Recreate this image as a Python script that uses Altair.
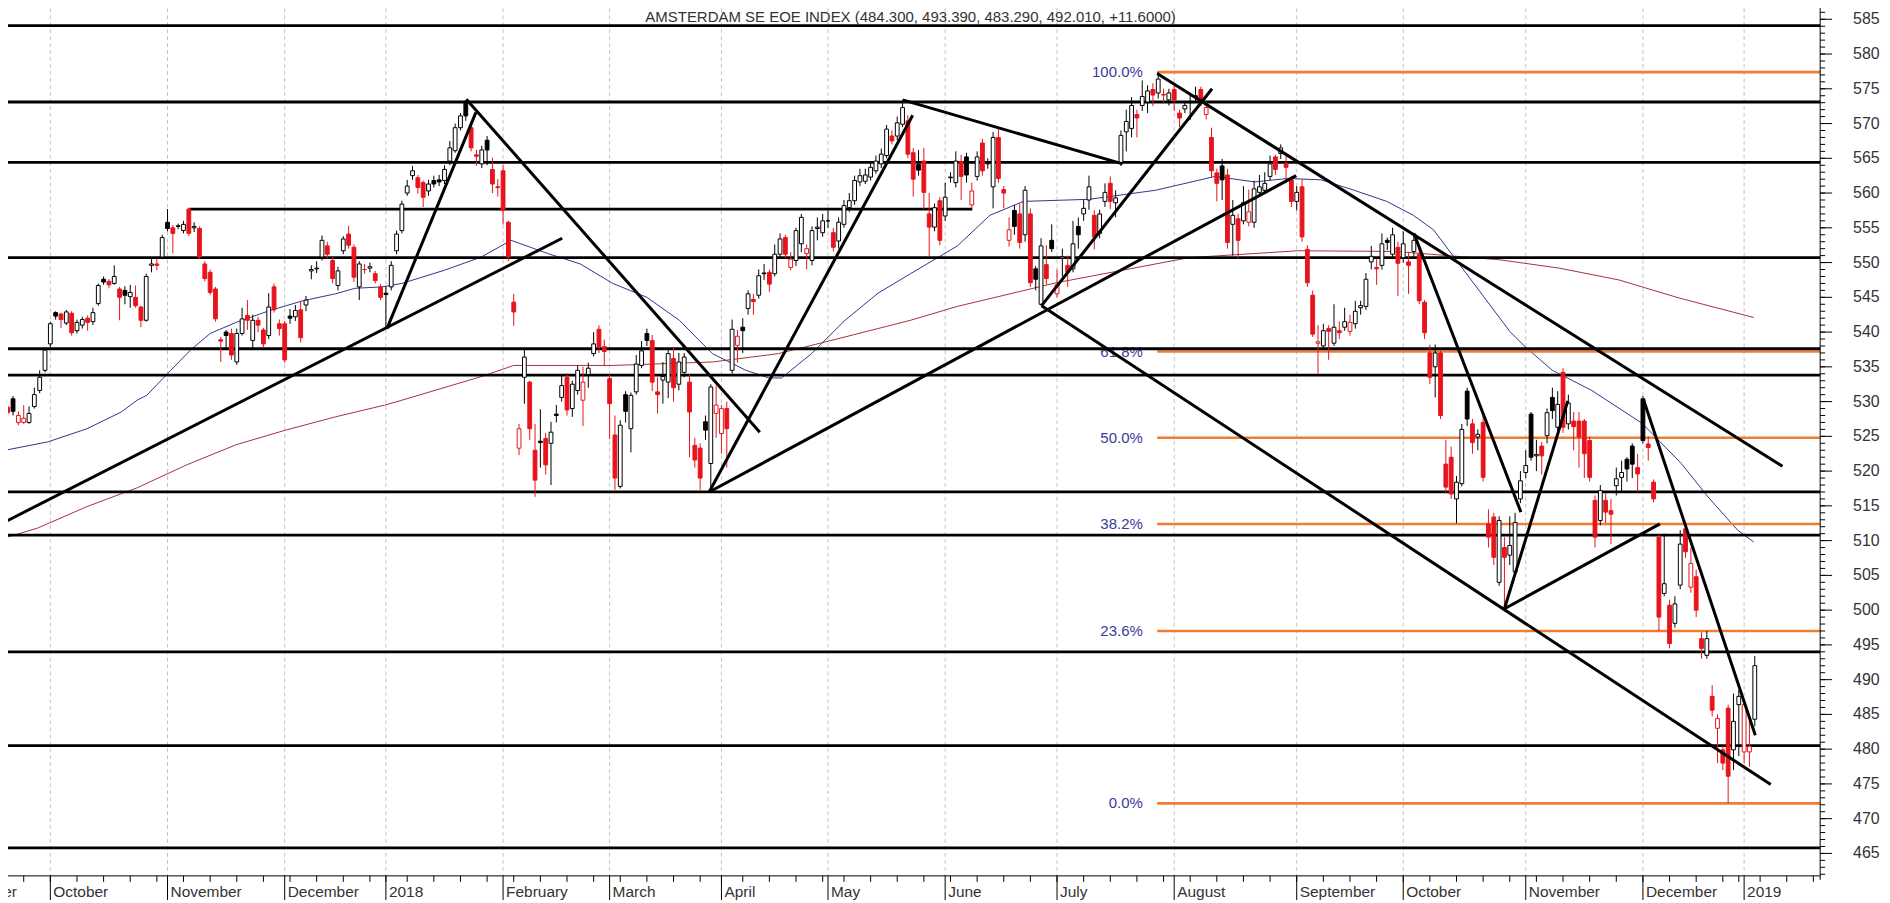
import altair as alt
import pandas as pd
import numpy as np

# ---------------- values ----------------
# daily candles, 2017-09-20 .. 2019-01-04 (trading days)
open_ = [
    529.2, 530.4, 527.0, 527.0, 527.0, 529.3, 531.6, 534.5,
    538.3, 542.8, 542.6, 541.3, 542.7, 540.2, 541.0, 542.0, 541.5, 544.1,
    547.6, 547.3, 547.0, 546.2, 546.0, 545.1, 545.0, 543.6, 541.7, 549.6,
    549.8, 550.8, 555.8, 555.0, 555.2, 554.6, 557.7, 555.0, 554.9, 549.8,
    548.6, 546.2, 538.9, 540.0, 539.8, 535.7, 539.8, 542.4, 538.8, 541.7,
    540.3, 539.5, 546.5, 541.2, 541.2, 542.3, 542.2, 543.2, 543.9, 548.8,
    549.1, 550.8, 552.4, 550.3, 546.7, 551.7, 554.1, 552.2, 546.5, 549.0,
    549.2, 548.4, 546.5, 545.6, 546.5, 551.7, 554.6, 560.0, 562.5, 562.2,
    561.5, 560.3, 561.8, 561.9, 561.8, 564.6, 566.1, 569.4, 573.2, 569.4,
    565.5, 564.2, 567.6, 563.4, 560.9, 563.2, 555.8, 544.3, 523.3, 533.5,
    532.8, 523.0, 524.3, 524.7, 524.0, 528.2, 530.6, 533.5, 529.0, 531.6,
    530.2, 533.9, 536.9, 540.4, 537.9, 533.3, 525.2, 517.8, 531.0, 526.1,
    531.4, 535.2, 539.8, 538.8, 531.4, 533.1, 532.8, 536.2, 532.5, 534.2,
    532.8, 523.7, 523.3, 527.1, 521.1, 528.3, 525.4, 529.0, 534.5, 538.1,
    540.7, 543.4, 544.7, 545.3, 548.5, 548.6, 548.4, 551.2, 553.6, 549.3,
    550.3, 552.7, 551.3, 550.3, 554.9, 554.3, 556.0, 554.3, 553.1, 555.5,
    557.9, 558.9, 561.6, 561.7, 562.3, 563.2, 564.2, 565.4, 568.2, 568.2,
    569.9, 570.4, 565.8, 564.1, 564.6, 557.0, 555.1, 558.9, 556.7, 562.3,
    561.5, 564.5, 565.2, 558.3, 562.4, 567.2, 564.2, 560.9, 568.0, 560.5,
    553.2, 557.5, 557.0, 554.0, 557.0, 549.1, 544.0, 549.7, 553.2, 545.5,
    550.6, 549.6, 549.1, 555.2, 557.0, 559.0, 556.8, 554.2, 558.8, 561.4,
    558.6, 564.4, 568.8, 569.3, 571.3, 572.6, 573.1, 574.9, 574.4, 574.2,
    573.4, 574.9, 571.5, 572.1, 573.1, 574.0, 574.9, 571.3, 568.0, 562.9,
    563.9, 562.6, 555.5, 556.3, 556.0, 555.8, 555.8, 560.1, 560.4, 562.4,
    565.2, 565.7, 564.2, 561.9, 558.8, 560.9, 551.9, 545.3, 538.4, 538.0,
    540.5, 538.4, 540.2, 540.7, 540.1, 541.2, 543.5, 543.7, 550.1, 549.3,
    549.6, 553.2, 551.2, 552.2, 550.7, 550.1, 551.6, 551.2, 544.3, 537.0,
    535.0, 537.0, 521.0, 522.0, 516.0, 518.2, 531.5, 526.8, 524.9, 527.0,
    512.4, 513.4, 504.0, 509.0, 507.9, 505.5, 516.0, 519.8, 528.2, 522.2,
    523.6, 525.1, 530.6, 526.3, 534.2, 526.8, 527.2, 527.2, 527.2, 524.4,
    515.8, 512.9, 515.8, 514.3, 517.9, 519.1, 521.7, 523.6, 520.5, 530.4,
    523.9, 518.4, 510.5, 502.4, 500.7, 498.1, 503.6, 511.7, 503.3, 504.8,
    495.9, 493.5, 487.6, 483.0, 479.9, 485.9, 479.9, 486.4, 479.6, 479.6, 484.3,
]
high_ = [
    529.5, 530.8, 528.6, 529.5, 529.3, 532.0, 534.5, 537.7,
    541.5, 543.0, 542.8, 543.2, 543.0, 541.8, 542.2, 542.4, 543.5, 547.0,
    548.0, 547.6, 549.6, 546.5, 546.6, 546.8, 546.7, 543.8, 548.4, 550.8,
    550.5, 554.0, 557.7, 555.4, 555.6, 556.0, 557.9, 555.8, 555.2, 550.2,
    549.0, 546.5, 539.3, 540.3, 540.5, 540.5, 543.5, 544.6, 542.5, 542.2,
    540.6, 545.6, 547.0, 541.8, 541.6, 543.3, 543.9, 544.5, 545.2, 549.6,
    550.2, 553.9, 553.0, 550.8, 549.4, 553.8, 555.3, 552.6, 550.2, 549.8,
    550.0, 548.8, 546.9, 546.6, 550.2, 554.6, 558.9, 561.9, 563.9, 562.6,
    561.8, 561.9, 562.5, 562.6, 564.0, 567.5, 570.0, 571.5, 573.4, 570.0,
    566.2, 566.8, 568.2, 565.1, 562.0, 564.0, 556.0, 545.5, 526.8, 537.5,
    533.0, 526.8, 528.9, 525.5, 527.1, 529.5, 533.8, 534.1, 533.0, 535.2,
    535.0, 535.6, 540.0, 541.0, 538.9, 533.9, 528.0, 527.3, 531.5, 531.3,
    536.7, 538.7, 540.5, 539.6, 533.5, 535.7, 537.5, 537.7, 537.0, 537.0,
    534.0, 524.8, 524.0, 528.0, 532.5, 532.3, 529.5, 530.0, 541.8, 540.3,
    542.0, 546.0, 545.5, 549.0, 549.8, 549.0, 552.6, 554.2, 554.0, 551.5,
    555.0, 557.0, 552.6, 555.2, 556.5, 557.0, 557.5, 555.0, 556.5, 559.0,
    560.0, 562.5, 563.5, 563.5, 564.5, 565.4, 566.4, 569.8, 569.0, 571.0,
    573.4, 571.2, 566.5, 566.2, 566.5, 560.0, 558.5, 559.4, 561.5, 563.0,
    566.0, 565.5, 565.8, 561.5, 566.0, 567.8, 565.0, 568.8, 569.2, 561.0,
    556.5, 558.3, 558.5, 561.0, 557.8, 549.5, 553.5, 552.5, 555.5, 549.0,
    552.0, 551.0, 556.0, 556.5, 559.0, 562.5, 557.5, 557.6, 561.4, 562.4,
    560.4, 569.0, 572.0, 573.8, 572.0, 576.2, 575.5, 575.8, 577.4, 575.0,
    575.0, 575.4, 572.0, 573.2, 574.0, 575.3, 575.3, 573.2, 569.4, 563.5,
    564.9, 563.5, 559.0, 557.0, 561.0, 560.5, 561.8, 562.6, 563.0, 565.4,
    565.5, 567.0, 565.4, 562.4, 561.0, 562.0, 552.5, 546.0, 541.0, 541.2,
    541.0, 544.0, 541.5, 543.5, 542.5, 544.5, 544.5, 548.5, 552.4, 550.5,
    554.2, 553.6, 555.0, 553.0, 554.5, 551.5, 554.2, 552.5, 544.6, 538.2,
    538.2, 537.5, 524.5, 523.5, 519.3, 526.8, 532.0, 527.5, 526.0, 528.5,
    514.5, 514.0, 513.5, 510.5, 513.5, 514.0, 520.0, 523.0, 528.5, 524.5,
    524.2, 529.0, 532.0, 531.5, 534.8, 531.0, 528.5, 528.5, 527.5, 525.0,
    516.5, 518.0, 516.8, 516.0, 520.5, 521.5, 522.0, 524.0, 522.5, 530.8,
    525.0, 518.8, 511.0, 511.0, 501.5, 502.0, 511.5, 512.3, 509.0, 505.8,
    496.8, 497.0, 489.2, 485.0, 480.5, 486.4, 488.0, 488.5, 487.0, 484.5, 493.39,
]
low_ = [
    528.0, 528.0, 526.6, 526.8, 526.8, 529.0, 531.2, 534.2,
    537.8, 541.8, 540.6, 541.0, 539.5, 539.8, 540.5, 540.2, 541.0, 543.8,
    546.8, 546.3, 546.8, 541.7, 544.0, 543.5, 543.5, 540.7, 541.5, 548.6,
    548.9, 550.5, 554.5, 551.3, 554.8, 554.2, 553.8, 554.4, 550.5, 547.3,
    545.3, 541.5, 535.7, 537.5, 536.0, 535.3, 539.5, 540.3, 537.7, 540.0,
    537.7, 539.0, 542.8, 539.5, 535.6, 541.2, 541.6, 538.5, 543.0, 547.6,
    548.5, 550.3, 550.6, 547.0, 546.0, 551.2, 552.0, 547.2, 544.6, 548.4,
    548.6, 547.0, 544.6, 540.5, 546.0, 551.2, 554.2, 559.6, 561.9, 559.9,
    558.0, 559.6, 560.8, 561.0, 561.3, 564.0, 565.8, 569.0, 570.4, 566.0,
    563.9, 563.6, 564.0, 560.0, 559.5, 555.5, 550.2, 540.9, 522.3, 529.7,
    524.5, 516.3, 520.5, 519.5, 518.0, 527.0, 530.0, 528.0, 527.8, 531.0,
    526.5, 532.0, 536.5, 537.0, 535.1, 524.6, 517.3, 517.5, 527.0, 522.7,
    531.0, 534.8, 538.0, 531.5, 528.3, 529.7, 530.5, 530.0, 531.6, 533.5,
    522.0, 520.5, 517.3, 524.5, 517.0, 524.8, 522.5, 520.5, 534.0, 535.6,
    537.0, 542.5, 542.5, 544.8, 547.5, 545.8, 548.0, 550.8, 550.6, 548.9,
    549.5, 551.5, 549.0, 549.6, 553.2, 553.7, 555.0, 551.6, 552.0, 555.0,
    557.3, 558.3, 561.0, 561.3, 561.8, 562.8, 563.6, 565.0, 567.0, 567.6,
    569.5, 565.0, 559.5, 562.5, 557.7, 550.9, 554.5, 552.5, 556.0, 561.5,
    560.8, 559.0, 561.5, 557.8, 561.8, 562.5, 563.5, 557.8, 561.5, 557.8,
    552.3, 554.0, 552.0, 553.0, 546.5, 546.0, 543.8, 546.8, 551.5, 545.0,
    548.0, 546.5, 548.6, 552.0, 556.0, 557.6, 551.9, 553.5, 558.0, 557.7,
    556.5, 563.9, 566.0, 568.0, 568.0, 571.8, 571.5, 572.5, 573.6, 573.0,
    572.6, 571.8, 569.5, 571.5, 570.5, 573.0, 572.5, 570.6, 562.2, 558.8,
    559.0, 552.0, 551.0, 550.6, 555.5, 555.2, 555.0, 559.5, 560.0, 561.8,
    562.6, 564.9, 561.4, 558.0, 557.5, 553.0, 546.5, 539.3, 534.0, 537.8,
    536.0, 538.0, 539.0, 540.2, 539.5, 540.5, 542.5, 543.2, 549.0, 546.8,
    549.0, 551.8, 550.5, 545.2, 550.0, 545.5, 550.7, 544.0, 539.0, 532.5,
    530.6, 527.5, 516.8, 516.0, 512.5, 517.8, 526.5, 522.5, 523.0, 518.5,
    509.0, 506.5, 503.5, 500.2, 506.5, 505.0, 515.4, 519.0, 521.5, 520.0,
    519.5, 524.0, 527.5, 525.5, 525.5, 526.0, 523.0, 520.5, 519.0, 518.5,
    509.0, 512.2, 512.5, 509.5, 516.5, 517.0, 518.5, 519.0, 517.0, 524.0,
    521.5, 515.5, 497.0, 502.0, 494.5, 497.5, 503.0, 507.5, 502.5, 499.0,
    493.0, 493.0, 484.7, 478.0, 477.0, 472.2, 477.0, 479.0, 478.0, 477.5, 483.29,
]
close_ = [
    528.4, 528.6, 528.0, 527.6, 528.3, 531.0, 533.5, 537.4,
    541.2, 542.3, 541.8, 542.9, 539.9, 541.4, 541.8, 541.4, 542.8, 546.7,
    547.2, 546.8, 548.0, 545.0, 545.3, 545.7, 543.8, 541.7, 548.0, 549.8,
    549.6, 553.6, 554.9, 554.2, 555.3, 555.5, 554.2, 555.2, 550.8, 547.7,
    545.7, 541.9, 538.7, 539.5, 536.7, 539.8, 541.9, 541.7, 541.7, 541.0,
    538.3, 543.6, 543.2, 540.5, 536.0, 542.0, 543.1, 539.2, 544.6, 549.0,
    549.2, 553.2, 551.2, 547.7, 548.8, 553.4, 552.5, 547.9, 549.8, 549.0,
    549.4, 547.4, 545.0, 545.4, 549.6, 554.1, 558.4, 561.0, 563.2, 560.8,
    559.4, 561.3, 561.3, 561.6, 563.4, 566.5, 569.4, 571.1, 571.1, 566.5,
    565.3, 566.2, 566.2, 561.3, 560.8, 557.5, 550.8, 542.9, 526.1, 536.4,
    526.1, 518.7, 524.1, 520.9, 525.6, 528.0, 532.3, 528.8, 532.5, 534.5,
    532.8, 534.8, 538.3, 537.9, 537.2, 529.7, 519.0, 526.6, 528.6, 530.9,
    535.4, 537.3, 538.8, 532.8, 531.0, 533.6, 536.9, 532.0, 535.7, 536.4,
    528.5, 521.6, 519.0, 525.9, 532.1, 529.5, 529.0, 526.1, 540.4, 539.4,
    540.2, 545.5, 544.4, 548.1, 548.4, 546.9, 551.2, 553.4, 551.2, 550.5,
    554.6, 556.5, 552.0, 554.6, 555.1, 556.0, 556.0, 552.2, 555.8, 558.2,
    558.9, 561.8, 562.5, 562.6, 563.7, 564.6, 565.6, 569.2, 567.5, 570.1,
    572.3, 565.6, 562.0, 563.3, 560.1, 555.1, 557.9, 553.2, 559.4, 562.2,
    564.6, 562.4, 562.6, 560.3, 565.2, 563.2, 564.3, 568.0, 562.1, 560.0,
    554.7, 555.2, 552.9, 560.4, 547.1, 547.6, 552.4, 547.7, 552.0, 546.8,
    550.8, 548.6, 552.7, 554.0, 557.8, 560.9, 553.7, 557.0, 560.1, 558.8,
    559.3, 568.3, 570.3, 572.6, 570.8, 573.9, 574.7, 574.1, 576.4, 574.1,
    574.4, 573.4, 570.8, 572.6, 573.0, 573.8, 573.4, 572.3, 563.2, 561.4,
    561.9, 552.9, 556.8, 553.2, 558.6, 557.3, 560.6, 560.9, 561.4, 564.2,
    563.4, 566.5, 563.7, 558.8, 560.1, 553.7, 547.1, 539.7, 538.6, 540.2,
    540.1, 540.7, 539.9, 541.5, 541.4, 543.0, 543.8, 547.6, 550.9, 549.1,
    552.7, 552.9, 554.0, 549.9, 552.7, 549.6, 553.2, 544.5, 539.9, 533.5,
    537.0, 528.0, 517.7, 516.7, 518.4, 526.0, 527.5, 524.1, 525.3, 519.1,
    510.5, 507.6, 512.9, 507.6, 509.3, 512.6, 518.6, 520.8, 522.0, 522.4,
    522.2, 528.4, 528.7, 529.6, 526.3, 529.8, 526.4, 524.9, 522.5, 519.1,
    510.5, 517.2, 514.1, 513.8, 518.9, 519.8, 520.3, 521.0, 519.6, 524.4,
    523.4, 516.0, 499.0, 503.8, 495.2, 500.9, 509.5, 508.4, 506.7, 500.0,
    494.5, 495.9, 485.6, 484.4, 478.0, 476.1, 484.0, 487.6, 486.4, 480.4, 492.01,
]

# moving averages (x = trading-day index from 2017-10-02, value)
ma_fast_x = [-8.5, -0.5, 6.9, 13.3, 16.3, 18.1, 22.6, 26.3, 30.0, 34.9, 41.2, 47.4, 53.5, 57.2,
             62.3, 66.0, 74.0, 80.9, 86.5, 93.4, 99.5, 105.6, 112.0, 118.1, 124.3, 130.6, 134.9,
             137.3, 142.9, 149.2, 155.4, 161.5, 170.3, 176.4, 182.7, 195.0, 207.5, 218.7, 226.1,
             232.3, 238.6, 244.8, 250.9, 255.9, 259.7, 274.0, 277.0, 282.0, 289.4, 298.8, 306.2,
             311.2, 316.8, 319.8]
ma_fast_y = [523.0, 524.2, 526.1, 528.5, 530.2, 530.9, 534.5, 537.4, 539.8, 541.4, 543.1, 544.5,
             545.5, 546.3, 546.5, 547.0, 548.9, 550.8, 553.2, 551.3, 549.8, 547.0, 545.0, 541.7,
             536.9, 534.5, 533.4, 533.4, 536.9, 541.7, 545.6, 548.4, 552.4, 556.8, 558.8, 559.1,
             560.4, 562.4, 561.6, 562.1, 561.9, 560.4, 558.8, 556.8, 554.7, 540.1, 537.8, 534.5,
             531.6, 526.9, 521.1, 516.3, 511.5, 509.8]
ma_slow_x = [-8.5, -2.4, 6.9, 16.3, 25.6, 34.9, 44.2, 53.5, 62.8, 66.0, 80.9, 87.0, 105.6, 124.3,
             136.7, 149.2, 161.5, 170.3, 188.9, 213.7, 234.2, 252.6, 272.1, 283.3, 294.5, 305.8, 319.8]
ma_slow_y = [510.4, 511.8, 514.9, 517.6, 520.9, 523.8, 525.9, 527.8, 529.5, 530.2, 533.6, 535.2,
             535.2, 535.7, 536.9, 539.3, 541.7, 543.7, 547.1, 550.7, 551.7, 551.6, 550.4, 549.2,
             547.5, 544.9, 542.1]

# horizontal support / resistance lines
h_levels = [584.1, 573.1, 564.4, 550.7, 537.6, 533.8, 517.0, 510.8, 494.0, 480.5, 465.8]
short_x1, short_x2, short_y = [26.1], [173.1], [557.7]

# trend lines
tl_x1 = [-8.5, 63.2, 78.1, 123.7, 123.7, 160.0, 186.1, 186.1, 207.8, 256.0, 273.0, 273.0, 299.1]
tl_y1 = [512.7, 540.5, 573.5, 517.0, 517.0, 573.4, 543.8, 543.8, 577.2, 554.2, 500.2, 500.2, 530.3]
tl_x2 = [96.1, 79.9, 133.2, 161.9, 233.9, 201.3, 218.1, 323.0, 325.2, 276.1, 284.9, 302.2, 320.1]
tl_y2 = [553.5, 571.6, 525.6, 571.2, 562.5, 564.2, 575.0, 474.9, 520.7, 514.1, 530.1, 512.4, 482.0]

# Fibonacci retracement
fib_levels = [577.4, 537.2, 524.8, 512.4, 497.0, 472.2]
fib_labels = ["100.0%", "61.8%", "50.0%", "38.2%", "23.6%", "0.0%"]
fib_start = [207.8]
fib_label_x = [205.1]

title_text = "AMSTERDAM SE EOE INDEX (484.300, 493.390, 483.290, 492.010, +11.6000)"
y_tick_values = list(range(465, 590, 5))
y_minor_values = list(range(462, 588))

# ---------------- layout ----------------
W, H = 1825, 877
X_DOM = [-8.51, 331.34]
Y_DOM = [461.77, 587.6]
RED = "#e8141c"
FONT = "Liberation Sans"

xs = alt.Scale(domain=X_DOM, nice=False, zero=False)
ys = alt.Scale(domain=Y_DOM, nice=False, zero=False)


def X(f):
    return alt.X(f, type="quantitative", scale=xs, axis=None)


def Y(f):
    return alt.Y(f, type="quantitative", scale=ys, axis=None)


# trading calendar (Euronext)
holidays = pd.to_datetime(["2017-12-25", "2017-12-26", "2018-01-01", "2018-03-30", "2018-04-02",
                           "2018-05-01", "2018-12-25", "2018-12-26", "2019-01-01"])
cal = pd.bdate_range("2017-09-01", "2019-01-31")
cal = cal[~cal.isin(holidays)]
zero_pos = int(np.where(cal == pd.Timestamp("2017-10-02"))[0][0])
cdf = pd.DataFrame({"d": cal, "i": np.arange(len(cal)) - zero_pos})
first_i = int(cdf.loc[cdf.d == pd.Timestamp("2017-09-20"), "i"].iloc[0])

cdf["m"] = cdf.d.dt.to_period("M")
ms = cdf.groupby("m", as_index=False).first()
ms["label"] = [str(d.year) if d.month == 1 else d.strftime("%B") for d in ms.d]
ms = ms[ms.i <= X_DOM[1]][["i", "label"]].reset_index(drop=True)
cdf["w"] = cdf.d.dt.to_period("W")
ws = cdf.groupby("w", as_index=False).first()
ws = ws[(ws.i >= X_DOM[0]) & (ws.i <= X_DOM[1])][["i"]].reset_index(drop=True)

# candles
n = len(close_)
df = pd.DataFrame({"i": np.arange(first_i, first_i + n), "o": open_, "h": high_, "l": low_, "c": close_})
df["h"] = df[["h", "o", "c"]].max(axis=1)
df["l"] = df[["l", "o", "c"]].min(axis=1)
prev = df["c"].shift(1).fillna(df["o"])
df["stroke"] = np.where(df["c"] < prev, RED, "#000000")
df["fill"] = np.where(df["c"] < df["o"], df["stroke"], "#ffffff")

grid = alt.Chart(ms).mark_rule(color="#c4c4c4", strokeDash=[4, 3], strokeWidth=1).encode(
    x=X("i"), y=alt.value(0), y2=alt.value(H))

ma_slow = alt.Chart(pd.DataFrame({"x": ma_slow_x, "y": ma_slow_y})).mark_line(
    color="#a3343a", strokeWidth=1).encode(x=X("x"), y=Y("y"))
ma_fast = alt.Chart(pd.DataFrame({"x": ma_fast_x, "y": ma_fast_y})).mark_line(
    color="#33358f", strokeWidth=1).encode(x=X("x"), y=Y("y"))

fib_df = pd.DataFrame({"y": fib_levels, "t": fib_labels, "x": fib_start * len(fib_levels),
                       "lx": fib_label_x * len(fib_levels)})
fib_text = alt.Chart(fib_df).mark_text(align="right", baseline="middle", font=FONT, fontSize=15,
                                       color="#3a3a9c").encode(x=X("lx"), y=Y("y"), text="t:N")
fib_lines = alt.Chart(fib_df).mark_rule(color="#ef7d32", strokeWidth=2.6).encode(
    x=X("x"), x2=alt.value(W), y=Y("y"))

hlines = alt.Chart(pd.DataFrame({"y": h_levels})).mark_rule(color="#000000", strokeWidth=2.8).encode(
    y=Y("y"), x=alt.value(0), x2=alt.value(W))
short = alt.Chart(pd.DataFrame({"x": short_x1, "x2": short_x2, "y": short_y})).mark_rule(
    color="#000000", strokeWidth=2.8).encode(x=X("x"), x2="x2:Q", y=Y("y"))

wicks = alt.Chart(df).mark_rule(strokeWidth=1).encode(
    x=X("i"), y=Y("l"), y2="h:Q", color=alt.Color("stroke:N", scale=None))
bodies = alt.Chart(df).mark_bar(size=3.8, strokeWidth=1).encode(
    x=X("i"), y=Y("o"), y2="c:Q",
    fill=alt.Fill("fill:N", scale=None), stroke=alt.Stroke("stroke:N", scale=None))

trend = alt.Chart(pd.DataFrame({"x": tl_x1, "y": tl_y1, "x2": tl_x2, "y2": tl_y2})).mark_rule(
    color="#000000", strokeWidth=3).encode(x=X("x"), y=Y("y"), x2="x2:Q", y2="y2:Q")

# axes drawn as marks
y_axis_line = alt.Chart(pd.DataFrame({"a": [0]})).mark_rule(color="#000000", strokeWidth=1).encode(
    x=alt.value(W), y=alt.value(0), y2=alt.value(H + 4))
x_axis_line = alt.Chart(pd.DataFrame({"a": [0]})).mark_rule(color="#000000", strokeWidth=1).encode(
    x=alt.value(0), x2=alt.value(W), y=alt.value(H))
minor_y = alt.Chart(pd.DataFrame({"v": y_minor_values})).mark_rule(color="#000000", strokeWidth=1).encode(
    y=Y("v"), x=alt.value(W), x2=alt.value(W + 5))
major_y = alt.Chart(pd.DataFrame({"v": y_tick_values})).mark_rule(color="#000000", strokeWidth=1).encode(
    y=Y("v"), x=alt.value(W), x2=alt.value(W + 12))
y_labels = alt.Chart(pd.DataFrame({"v": y_tick_values})).mark_text(
    align="left", baseline="middle", font=FONT, fontSize=16, color="#333333").encode(
    y=Y("v"), x=alt.value(W + 33), text=alt.Text("v:Q", format="d"))
month_ticks = alt.Chart(ms).mark_rule(color="#000000", strokeWidth=1).encode(
    x=X("i"), y=alt.value(H), y2=alt.value(H + 30))
week_ticks = alt.Chart(ws).mark_rule(color="#000000", strokeWidth=1).encode(
    x=X("i"), y=alt.value(H), y2=alt.value(H + 6))
month_labels = alt.Chart(ms).mark_text(
    align="left", baseline="middle", dx=3, font=FONT, fontSize=15.5, color="#333333").encode(
    x=X("i"), y=alt.value(H + 16), text="label:N")

title = alt.Chart(pd.DataFrame({"t": [title_text]})).mark_text(
    font=FONT, fontSize=15, color="#333333", align="center", baseline="middle").encode(
    x=alt.value(913), y=alt.value(16), text="t:N")

chart = alt.layer(
    grid, ma_slow, ma_fast, fib_text, fib_lines, hlines, short, wicks, bodies, trend,
    y_axis_line, x_axis_line, minor_y, major_y, y_labels, month_ticks, week_ticks, month_labels, title
).properties(
    width=W, height=H,
    padding={"left": -8, "top": -8, "right": 62, "bottom": 23},
    autosize=alt.AutoSizeParams(type="none"),
    background="#ffffff",
).configure_view(stroke=None)

chart.save("out.html", embed_options={"renderer": "svg", "actions": False})
